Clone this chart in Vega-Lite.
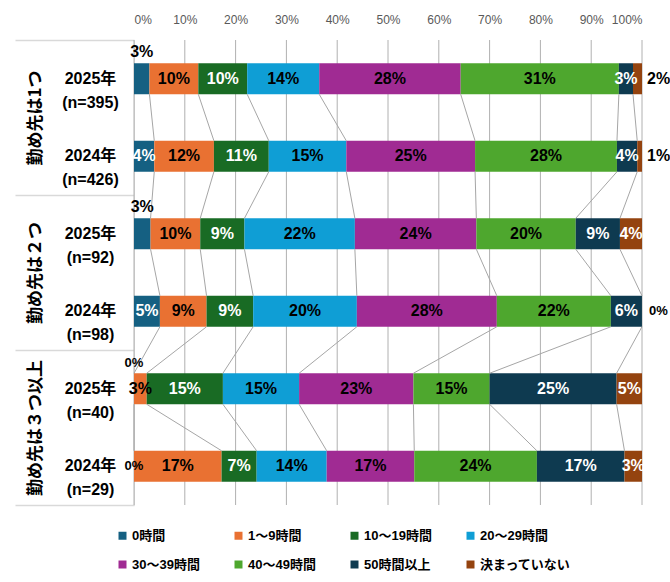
{
  "$schema": "https://vega.github.io/schema/vega-lite/v6.json",
  "width": 508,
  "height": 465,
  "autosize": "none",
  "padding": {"left": 134, "top": 40, "right": 28, "bottom": 77},
  "background": "white",
  "config": {
    "view": {"stroke": null},
    "font": "Liberation Sans, Noto Sans CJK JP, sans-serif",
    "axisX": {
      "orient": "top", "title": null, "format": ".0%",
      "values": [0, 0.1, 0.2, 0.3, 0.4, 0.5, 0.6, 0.7, 0.8, 0.9, 1],
      "domain": false, "ticks": false, "grid": false,
      "labelColor": "#595959", "labelFontSize": 12, "labelPadding": 14,
      "labelFont": "Liberation Sans"
    }
  },
  "datasets": {
    "gridvals": [{"t": 0}, {"t": 0.1}, {"t": 0.2}, {"t": 0.3}, {"t": 0.4}, {"t": 0.5}, {"t": 0.6}, {"t": 0.7}, {"t": 0.8}, {"t": 0.9}, {"t": 1}],
    "hours": [
    {"r": 0, "group": "勤め先は1つ", "row": "2025年 (n=395)", "k": 0, "cat": "0時間", "pct": 0.0304},
    {"r": 0, "group": "勤め先は1つ", "row": "2025年 (n=395)", "k": 1, "cat": "1～9時間", "pct": 0.0962},
    {"r": 0, "group": "勤め先は1つ", "row": "2025年 (n=395)", "k": 2, "cat": "10～19時間", "pct": 0.0962},
    {"r": 0, "group": "勤め先は1つ", "row": "2025年 (n=395)", "k": 3, "cat": "20～29時間", "pct": 0.1418},
    {"r": 0, "group": "勤め先は1つ", "row": "2025年 (n=395)", "k": 4, "cat": "30～39時間", "pct": 0.2785},
    {"r": 0, "group": "勤め先は1つ", "row": "2025年 (n=395)", "k": 5, "cat": "40～49時間", "pct": 0.3114},
    {"r": 0, "group": "勤め先は1つ", "row": "2025年 (n=395)", "k": 6, "cat": "50時間以上", "pct": 0.0278},
    {"r": 0, "group": "勤め先は1つ", "row": "2025年 (n=395)", "k": 7, "cat": "決まっていない", "pct": 0.0177},
    {"r": 1, "group": "勤め先は1つ", "row": "2024年 (n=426)", "k": 0, "cat": "0時間", "pct": 0.0399},
    {"r": 1, "group": "勤め先は1つ", "row": "2024年 (n=426)", "k": 1, "cat": "1～9時間", "pct": 0.1174},
    {"r": 1, "group": "勤め先は1つ", "row": "2024年 (n=426)", "k": 2, "cat": "10～19時間", "pct": 0.1080},
    {"r": 1, "group": "勤め先は1つ", "row": "2024年 (n=426)", "k": 3, "cat": "20～29時間", "pct": 0.1526},
    {"r": 1, "group": "勤め先は1つ", "row": "2024年 (n=426)", "k": 4, "cat": "30～39時間", "pct": 0.2535},
    {"r": 1, "group": "勤め先は1つ", "row": "2024年 (n=426)", "k": 5, "cat": "40～49時間", "pct": 0.2793},
    {"r": 1, "group": "勤め先は1つ", "row": "2024年 (n=426)", "k": 6, "cat": "50時間以上", "pct": 0.0399},
    {"r": 1, "group": "勤め先は1つ", "row": "2024年 (n=426)", "k": 7, "cat": "決まっていない", "pct": 0.0094},
    {"r": 2, "group": "勤め先は２つ", "row": "2025年 (n=92)", "k": 0, "cat": "0時間", "pct": 0.0326},
    {"r": 2, "group": "勤め先は２つ", "row": "2025年 (n=92)", "k": 1, "cat": "1～9時間", "pct": 0.0978},
    {"r": 2, "group": "勤め先は２つ", "row": "2025年 (n=92)", "k": 2, "cat": "10～19時間", "pct": 0.0870},
    {"r": 2, "group": "勤め先は２つ", "row": "2025年 (n=92)", "k": 3, "cat": "20～29時間", "pct": 0.2174},
    {"r": 2, "group": "勤め先は２つ", "row": "2025年 (n=92)", "k": 4, "cat": "30～39時間", "pct": 0.2391},
    {"r": 2, "group": "勤め先は２つ", "row": "2025年 (n=92)", "k": 5, "cat": "40～49時間", "pct": 0.1957},
    {"r": 2, "group": "勤め先は２つ", "row": "2025年 (n=92)", "k": 6, "cat": "50時間以上", "pct": 0.0870},
    {"r": 2, "group": "勤め先は２つ", "row": "2025年 (n=92)", "k": 7, "cat": "決まっていない", "pct": 0.0434},
    {"r": 3, "group": "勤め先は２つ", "row": "2024年 (n=98)", "k": 0, "cat": "0時間", "pct": 0.0510},
    {"r": 3, "group": "勤め先は２つ", "row": "2024年 (n=98)", "k": 1, "cat": "1～9時間", "pct": 0.0918},
    {"r": 3, "group": "勤め先は２つ", "row": "2024年 (n=98)", "k": 2, "cat": "10～19時間", "pct": 0.0918},
    {"r": 3, "group": "勤め先は２つ", "row": "2024年 (n=98)", "k": 3, "cat": "20～29時間", "pct": 0.2041},
    {"r": 3, "group": "勤め先は２つ", "row": "2024年 (n=98)", "k": 4, "cat": "30～39時間", "pct": 0.2755},
    {"r": 3, "group": "勤め先は２つ", "row": "2024年 (n=98)", "k": 5, "cat": "40～49時間", "pct": 0.2245},
    {"r": 3, "group": "勤め先は２つ", "row": "2024年 (n=98)", "k": 6, "cat": "50時間以上", "pct": 0.0612},
    {"r": 3, "group": "勤め先は２つ", "row": "2024年 (n=98)", "k": 7, "cat": "決まっていない", "pct": 0},
    {"r": 4, "group": "勤め先は３つ以上", "row": "2025年 (n=40)", "k": 0, "cat": "0時間", "pct": 0},
    {"r": 4, "group": "勤め先は３つ以上", "row": "2025年 (n=40)", "k": 1, "cat": "1～9時間", "pct": 0.025},
    {"r": 4, "group": "勤め先は３つ以上", "row": "2025年 (n=40)", "k": 2, "cat": "10～19時間", "pct": 0.15},
    {"r": 4, "group": "勤め先は３つ以上", "row": "2025年 (n=40)", "k": 3, "cat": "20～29時間", "pct": 0.15},
    {"r": 4, "group": "勤め先は３つ以上", "row": "2025年 (n=40)", "k": 4, "cat": "30～39時間", "pct": 0.225},
    {"r": 4, "group": "勤め先は３つ以上", "row": "2025年 (n=40)", "k": 5, "cat": "40～49時間", "pct": 0.15},
    {"r": 4, "group": "勤め先は３つ以上", "row": "2025年 (n=40)", "k": 6, "cat": "50時間以上", "pct": 0.25},
    {"r": 4, "group": "勤め先は３つ以上", "row": "2025年 (n=40)", "k": 7, "cat": "決まっていない", "pct": 0.05},
    {"r": 5, "group": "勤め先は３つ以上", "row": "2024年 (n=29)", "k": 0, "cat": "0時間", "pct": 0},
    {"r": 5, "group": "勤め先は３つ以上", "row": "2024年 (n=29)", "k": 1, "cat": "1～9時間", "pct": 0.1724},
    {"r": 5, "group": "勤め先は３つ以上", "row": "2024年 (n=29)", "k": 2, "cat": "10～19時間", "pct": 0.0690},
    {"r": 5, "group": "勤め先は３つ以上", "row": "2024年 (n=29)", "k": 3, "cat": "20～29時間", "pct": 0.1379},
    {"r": 5, "group": "勤め先は３つ以上", "row": "2024年 (n=29)", "k": 4, "cat": "30～39時間", "pct": 0.1724},
    {"r": 5, "group": "勤め先は３つ以上", "row": "2024年 (n=29)", "k": 5, "cat": "40～49時間", "pct": 0.2414},
    {"r": 5, "group": "勤め先は３つ以上", "row": "2024年 (n=29)", "k": 6, "cat": "50時間以上", "pct": 0.1724},
    {"r": 5, "group": "勤め先は３つ以上", "row": "2024年 (n=29)", "k": 7, "cat": "決まっていない", "pct": 0.0345}
    ]
  },
  "resolve": {"scale": {"y": "independent"}, "axis": {"y": "independent"}},
  "layer": [
    {
      "data": {"name": "gridvals"},
      "mark": {"type": "rule", "color": "#b0b0b0", "strokeWidth": 1, "opacity": 1},
      "encoding": {
        "x": {"field": "t", "type": "quantitative", "scale": {"domain": [0, 1]}, "axis": {"title": null}},
        "y": {"datum": 0, "type": "quantitative", "scale": {"domain": [0, 1], "nice": false, "zero": false}, "axis": null},
        "y2": {"datum": 1}
      }
    },
    {
      "data": {"name": "hours"},
      "mark": {"type": "point", "opacity": 0},
      "encoding": {
        "y": {
          "field": "group", "type": "nominal",
          "scale": {"domain": ["勤め先は1つ", "勤め先は２つ", "勤め先は３つ以上"], "paddingInner": 0, "paddingOuter": 0},
          "axis": {
            "orient": "left", "title": null,
            "domain": true, "domainColor": "#d9d9d9", "domainWidth": 1,
            "ticks": true, "tickBand": "extent", "tickSize": 119, "tickColor": "#d9d9d9", "tickWidth": 1.5,
            "labelAngle": -90, "labelAlign": "center", "labelBaseline": "middle",
            "labelPadding": -20, "labelFontSize": 17, "labelFontWeight": "bold",
            "labelColor": "black", "labelFont": "Noto Sans CJK JP", "labelLimit": 0
          }
        }
      }
    },
    {
      "data": {"name": "hours"},
      "transform": [
        {"stack": "pct", "groupby": ["r"], "sort": [{"field": "k", "order": "ascending"}], "as": ["x0", "x1"]},
        {"calculate": "(datum.x0 + datum.x1) / 2", "as": "mid"}
      ],
      "encoding": {
        "y": {
          "field": "row", "type": "nominal",
          "scale": {"domain": ["2025年 (n=395)", "2024年 (n=426)", "2025年 (n=92)", "2024年 (n=98)", "2025年 (n=40)", "2024年 (n=29)"], "paddingInner": 0.6, "paddingOuter": 0.3},
          "axis": {
            "orient": "left", "title": null, "domain": false, "ticks": false, "grid": false,
            "labelExpr": "split(datum.label, ' ')",
            "labelAlign": "center", "labelBaseline": "middle", "labelPadding": 44,
            "labelFontSize": 16, "labelFontWeight": "bold", "labelColor": "black",
            "labelLineHeight": 24, "labelFont": "Liberation Sans, Noto Sans CJK JP", "labelLimit": 0
          }
        }
      },
      "layer": [
        {
          "mark": {"type": "bar"},
          "encoding": {
            "x": {"field": "x0", "type": "quantitative", "axis": {"title": null}},
            "x2": {"field": "x1"},
            "color": {
              "field": "cat", "type": "nominal",
              "scale": {
                "domain": ["0時間", "1～9時間", "10～19時間", "20～29時間", "30～39時間", "40～49時間", "50時間以上", "決まっていない"],
                "range": ["#156082", "#E97132", "#196B24", "#0F9ED5", "#A02B93", "#4EA72E", "#0E3A50", "#94430F"]
              },
              "legend": {
                "orient": "none", "legendX": -18, "legendY": 489,
                "direction": "horizontal", "columns": 4, "title": null,
                "symbolType": "square", "symbolSize": 64, "symbolStrokeWidth": 0,
                "labelFontSize": 13, "labelFontWeight": "bold", "labelColor": "black",
                "labelFont": "Liberation Sans, Noto Sans CJK JP",
                "columnPadding": 32, "rowPadding": 15, "labelOffset": 3,
                "gridAlign": "each", "labelLimit": 200
              }
            }
          }
        },
        {
          "transform": [
            {"window": [{"op": "lead", "field": "x1", "as": "x1next"}, {"op": "lead", "field": "row", "as": "rownext"}], "groupby": ["k"], "sort": [{"field": "r", "order": "ascending"}]},
            {"filter": "datum.k < 7 && datum.rownext != null"}
          ],
          "mark": {"type": "rule", "color": "#a6a6a6", "strokeWidth": 1, "yOffset": 15.5, "y2Offset": -15.5},
          "encoding": {
            "x": {"field": "x1", "type": "quantitative", "axis": {"title": null}},
            "x2": {"field": "x1next"},
            "y2": {"field": "rownext"}
          }
        },
        {
          "transform": [{"filter": "datum.pct > 0 && !(datum.k == 0 && datum.pct < 0.035) && !(datum.k == 7 && datum.pct < 0.03)"}],
          "mark": {"type": "text", "fontSize": 16, "fontWeight": "bold", "font": "Liberation Sans", "align": "center", "baseline": "middle"},
          "encoding": {
            "x": {"field": "mid", "type": "quantitative", "axis": {"title": null}},
            "text": {"field": "pct", "type": "quantitative", "format": ".0%"},
            "color": {"condition": {"test": "datum.k == 0 || datum.k == 2 || datum.k == 6 || datum.k == 7", "value": "white"}, "value": "black"}
          }
        },
        {
          "transform": [{"filter": "datum.k == 0 && datum.pct > 0 && datum.pct < 0.035"}],
          "mark": {"type": "text", "fontSize": 16, "fontWeight": "bold", "font": "Liberation Sans", "align": "center", "baseline": "middle", "dy": -27, "color": "black"},
          "encoding": {
            "x": {"field": "mid", "type": "quantitative", "axis": {"title": null}},
            "text": {"field": "pct", "type": "quantitative", "format": ".0%"}
          }
        },
        {
          "transform": [{"filter": "datum.k == 7 && datum.pct > 0 && datum.pct < 0.03"}],
          "mark": {"type": "text", "fontSize": 16, "fontWeight": "bold", "font": "Liberation Sans", "align": "left", "baseline": "middle", "dx": 5, "color": "black"},
          "encoding": {
            "x": {"field": "x1", "type": "quantitative", "axis": {"title": null}},
            "text": {"field": "pct", "type": "quantitative", "format": ".0%"}
          }
        },
        {
          "transform": [{"filter": "datum.k == 7 && datum.pct == 0"}],
          "mark": {"type": "text", "fontSize": 13, "fontWeight": "bold", "font": "Liberation Sans", "align": "left", "baseline": "middle", "dx": 7, "color": "black"},
          "encoding": {
            "x": {"field": "x1", "type": "quantitative", "axis": {"title": null}},
            "text": {"field": "pct", "type": "quantitative", "format": ".0%"}
          }
        },
        {
          "transform": [{"filter": "datum.k == 0 && datum.pct == 0 && datum.r == 4"}],
          "mark": {"type": "text", "fontSize": 13, "fontWeight": "bold", "font": "Liberation Sans", "align": "center", "baseline": "middle", "dy": -26, "color": "black"},
          "encoding": {
            "x": {"field": "x0", "type": "quantitative", "axis": {"title": null}},
            "text": {"field": "pct", "type": "quantitative", "format": ".0%"}
          }
        },
        {
          "transform": [{"filter": "datum.k == 0 && datum.pct == 0 && datum.r == 5"}],
          "mark": {"type": "text", "fontSize": 13, "fontWeight": "bold", "font": "Liberation Sans", "align": "center", "baseline": "middle", "color": "black"},
          "encoding": {
            "x": {"field": "x0", "type": "quantitative", "axis": {"title": null}},
            "text": {"field": "pct", "type": "quantitative", "format": ".0%"}
          }
        }
      ]
    }
  ]
}
